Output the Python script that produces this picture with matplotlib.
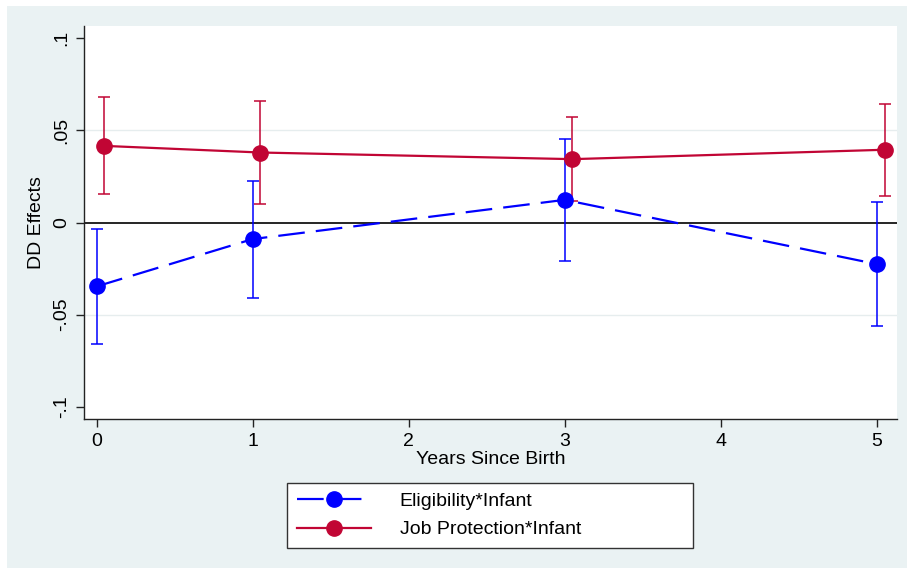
import matplotlib.pyplot as plt
from matplotlib.patches import Rectangle
import numpy as np

plt.rcParams['font.family'] = ['Liberation Sans', 'DejaVu Sans']

years = [0, 1, 3, 5]
offset = 0.05  # red series drawn slightly to the right

elig_est = [-0.0347, -0.0090, 0.0123, -0.0226]
elig_lo = [-0.0659, -0.0410, -0.0208, -0.0561]
elig_hi = [-0.0038, 0.0226, 0.0456, 0.0111]

job_est = [0.0416, 0.0380, 0.0344, 0.0395]
job_lo = [0.0154, 0.0103, 0.0119, 0.0145]
job_hi = [0.0682, 0.0659, 0.0573, 0.0644]

yticks = [-0.1, -0.05, 0, 0.05, 0.1]
ytick_labels = ["-.1", "-.05", "0", ".05", ".1"]
xticks = [0, 1, 2, 3, 4, 5]

blue = "#0000FF"
red = "#C10534"
bg = "#EAF2F3"
fs = 14

fig = plt.figure(figsize=(9.13, 5.74), dpi=100)
fig.patch.set_facecolor("white")
fig.patches.append(Rectangle((7 / 913, 1 - 568 / 574), 900 / 913, 562 / 574,
                             transform=fig.transFigure, facecolor=bg,
                             edgecolor="none", zorder=-10))

ax = fig.add_axes([84 / 913, 1 - 419 / 574, (897 - 84) / 913, (419 - 26) / 574])
ax.set_facecolor("white")

for g in [-0.05, 0.05]:
    ax.axhline(g, color="#E6EDEE", lw=1.0, zorder=0)
ax.axhline(0, color="black", lw=1.2, zorder=1)

x_b = np.array(years, dtype=float)
x_r = x_b + offset

e = np.array(elig_est)
ax.errorbar(x_b, e, yerr=[e - np.array(elig_lo), np.array(elig_hi) - e],
            fmt="none", ecolor=blue, elinewidth=1.1, capsize=4, capthick=1.1, zorder=2)
j = np.array(job_est)
ax.errorbar(x_r, j, yerr=[j - np.array(job_lo), np.array(job_hi) - j],
            fmt="none", ecolor=red, elinewidth=1.1, capsize=4, capthick=1.1, zorder=2)

ax.plot(x_b, e, color=blue, lw=1.6, linestyle=(0, (12, 5)), marker="o",
        markersize=11, label="Eligibility*Infant", zorder=3)
ax.plot(x_r, j, color=red, lw=1.6, marker="o", markersize=11,
        label="Job Protection*Infant", zorder=3)

ax.set_xlim(-0.081, 5.13)
ax.set_ylim(-0.1067, 0.1067)
ax.set_yticks(yticks)
ax.set_yticklabels(ytick_labels, rotation=90, va="center")
ax.set_xticks(xticks)

for s in ["top", "right"]:
    ax.spines[s].set_visible(False)
for s in ["left", "bottom"]:
    ax.spines[s].set_color("#222222")
    ax.spines[s].set_linewidth(1.0)
ax.tick_params(direction="out", length=6, width=1.0, color="#222222",
               labelsize=fs, pad=4)

ax.set_xlabel("Years Since Birth", fontsize=fs, labelpad=1)
ax.set_ylabel("DD Effects", fontsize=fs, labelpad=6)

leg = fig.legend(loc="center", bbox_to_anchor=(287 / 913, 1 - 548 / 574, 406 / 913, 65 / 574),
                 mode="expand", fontsize=fs, frameon=True, fancybox=False,
                 handlelength=3.8, handletextpad=1.5, borderpad=0.5,
                 labelspacing=0.55, borderaxespad=0)
leg.get_frame().set_edgecolor("#333333")
leg.get_frame().set_linewidth(1.0)
leg.get_frame().set_facecolor("white")
leg.get_frame().set_alpha(1)

fig.savefig("out.png", dpi=100, facecolor=fig.get_facecolor())
